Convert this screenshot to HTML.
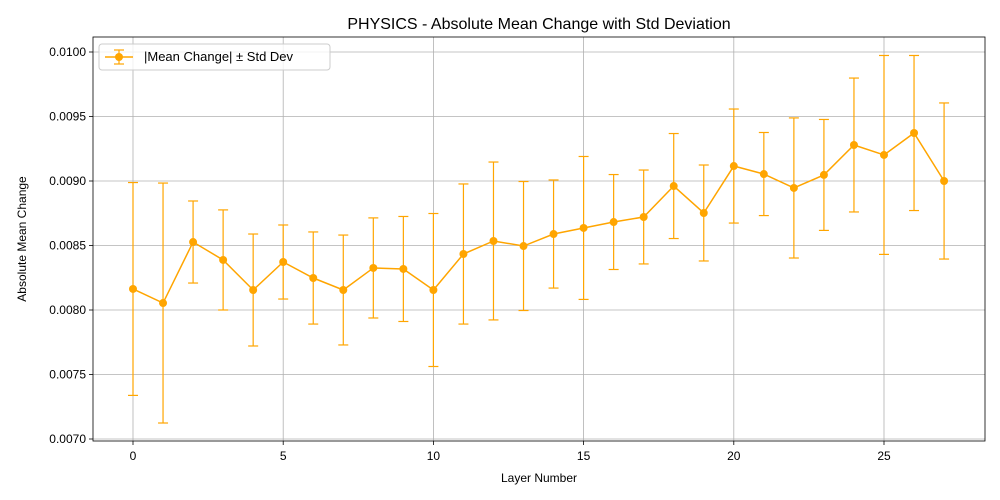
<!DOCTYPE html>
<html><head><meta charset="utf-8"><style>
body{margin:0;background:#fff;}
svg{display:block;font-family:"Liberation Sans","DejaVu Sans",sans-serif;}
</style></head><body>
<svg id="chart" width="1000" height="500"></svg>
<script>
const layers=[0,1,2,3,4,5,6,7,8,9,10,11,12,13,14,15,16,17,18,19,20,21,22,23,24,25,26,27];
const means=[0.008163,0.008054,0.008527,0.008388,0.008155,0.008372,0.008248,0.008155,0.008326,0.008318,0.008155,0.008434,0.008535,0.008496,0.008589,0.008636,0.008682,0.008721,0.008961,0.008752,0.009116,0.009054,0.008946,0.009047,0.009279,0.009202,0.009372,0.0090];
const stds=[0.000825,0.000930,0.000318,0.000388,0.000434,0.000287,0.000357,0.000426,0.000388,0.000407,0.000593,0.000543,0.000612,0.0005,0.000419,0.000554,0.000368,0.000364,0.000407,0.000372,0.000442,0.000322,0.000543,0.00043,0.000519,0.000771,0.000601,0.000605];
const xTicks=[0,5,10,15,20,25];
const yTicks=[0.0070,0.0075,0.0080,0.0085,0.0090,0.0095,0.0100];

const L=93,R=985,T=37,B=441;
const xs=v=>133+(v-0)*(884-133)/25;
const ys=v=>52+(0.0100-v)*129000;
const NS="http://www.w3.org/2000/svg";
const svg=document.getElementById('chart');
function el(tag,attrs,parent){const e=document.createElementNS(NS,tag);for(const k in attrs)e.setAttribute(k,attrs[k]);(parent||svg).appendChild(e);return e;}
const C="#ffa500";

// grid
xTicks.forEach(t=>{const g=el('line',{x1:xs(t),x2:xs(t),y1:T,y2:B,stroke:'#b0b0b0','stroke-width':0.8});


const tk=el('line',{x1:xs(t),x2:xs(t),y1:B,y2:B+4,stroke:'#000','stroke-width':0.8});
const tx=el('text',{x:xs(t),y:B+19,'text-anchor':'middle','font-size':12,fill:'#000'});tx.textContent=t;


});
yTicks.forEach(t=>{const g=el('line',{x1:L,x2:R,y1:ys(t),y2:ys(t),stroke:'#b0b0b0','stroke-width':0.8});


el('line',{x1:L-4,x2:L,y1:ys(t),y2:ys(t),stroke:'#000','stroke-width':0.8});
const tx=el('text',{x:L-7,y:ys(t)+4,'text-anchor':'end','font-size':12,fill:'#000'});tx.textContent=t.toFixed(4);


});

// error bars
layers.forEach((l,i)=>{const x=xs(l),y1=ys(means[i]+stds[i]),y2=ys(means[i]-stds[i]);
const g=el('g',{stroke:C,'stroke-width':1.2});


el('line',{x1:x,x2:x,y1:y1,y2:y2},g);
el('line',{x1:x-5,x2:x+5,y1:y1,y2:y1},g);
el('line',{x1:x-5,x2:x+5,y1:y2,y2:y2},g);
});
const line=el('polyline',{points:layers.map((l,i)=>xs(l)+','+ys(means[i])).join(' '),fill:'none',stroke:C,'stroke-width':1.5});


layers.forEach((l,i)=>{const p=el('circle',{cx:xs(l),cy:ys(means[i]),r:4,fill:C});


});

// frame
const fr=el('rect',{x:L,y:T,width:R-L,height:B-T,fill:'none',stroke:'#000','stroke-width':0.8});



// titles
const tt=el('text',{x:539,y:29,'text-anchor':'middle','font-size':16,fill:'#000'});tt.textContent='PHYSICS - Absolute Mean Change with Std Deviation';


const xl=el('text',{x:539,y:482,'text-anchor':'middle','font-size':12,fill:'#000'});xl.textContent='Layer Number';


const yl=el('text',{x:0,y:0,'text-anchor':'middle','font-size':12,fill:'#000',transform:'translate(26,239) rotate(-90)'});yl.textContent='Absolute Mean Change';



// legend
const lg=el('g',{});


el('rect',{x:99,y:44,width:231,height:26,rx:3,fill:'#fff','fill-opacity':0.8,stroke:'#ccc'},lg);
el('line',{x1:105,x2:133,y1:57,y2:57,stroke:C,'stroke-width':1.5},lg);
el('line',{x1:119,x2:119,y1:50,y2:64,stroke:C,'stroke-width':1.2},lg);
el('line',{x1:114,x2:124,y1:50,y2:50,stroke:C,'stroke-width':1.2},lg);
el('line',{x1:114,x2:124,y1:64,y2:64,stroke:C,'stroke-width':1.2},lg);
el('circle',{cx:119,cy:57,r:4,fill:C},lg);
const lt=el('text',{x:144,y:61,'font-size':13,fill:'#000'},lg);lt.textContent='|Mean Change| ± Std Dev';


</script>
</body></html>
